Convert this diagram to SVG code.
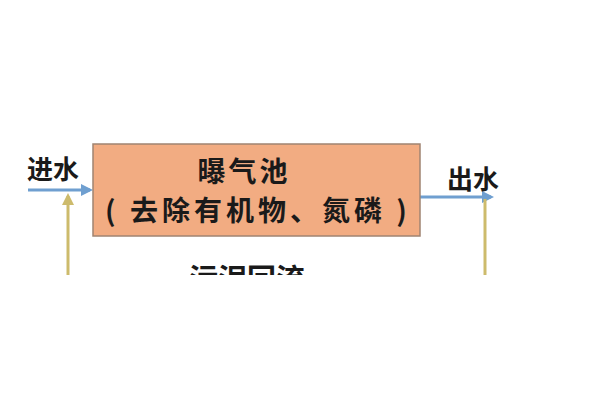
<svg xmlns="http://www.w3.org/2000/svg" width="600" height="400" viewBox="0 0 600 400">
<style>
.t{font-family:"Noto Sans CJK SC","Noto Sans",sans-serif;font-weight:bold;fill:#1a1a1a}
.blue{stroke:#6f9fd0;stroke-width:3;fill:none}
.gold{stroke:#cdbb6c;stroke-width:3;fill:none}
</style>
<defs>
<marker id="ab" markerWidth="4" markerHeight="4" refX="3" refY="2" orient="auto" markerUnits="strokeWidth"><path d="M0,0 L4,2 L0,4 Z" fill="#6f9fd0"/></marker>
<marker id="ag" markerWidth="4" markerHeight="4" refX="3" refY="2" orient="auto" markerUnits="strokeWidth"><path d="M0,0 L4,2 L0,4 Z" fill="#cdbb6c"/></marker>
<clipPath id="cut"><rect x="0" y="0" width="600" height="275"/></clipPath>
</defs>
<rect width="600" height="400" fill="#ffffff"/>
<g id="connectors">
<line class="blue" x1="28" y1="190" x2="90" y2="190" marker-end="url(#ab)"/>
<line class="gold" x1="68" y1="275" x2="68" y2="196" marker-end="url(#ag)"/>
<line class="blue" x1="420" y1="197" x2="491" y2="197" marker-end="url(#ab)"/>
<line class="gold" x1="485" y1="199" x2="485" y2="275"/>
</g>
<g id="aeration-tank">
<rect x="93" y="144" width="327" height="92" fill="#f2ac82" stroke="#a08472" stroke-width="1.5"/>
<text class="t" x="244" y="182" font-size="28" text-anchor="middle" letter-spacing="3">曝气池</text>
<text class="t" x="258" y="221" font-size="28" text-anchor="middle" letter-spacing="4">( 去除有机物、氮磷 )</text>
</g>
<g id="inlet"><text class="t" x="27" y="179" font-size="26">进水</text></g>
<g id="outlet"><text class="t" x="447" y="189" font-size="26">出水</text></g>
<g id="return" clip-path="url(#cut)"><text class="t" x="189" y="290" font-size="29">污泥回流</text></g>
</svg>
